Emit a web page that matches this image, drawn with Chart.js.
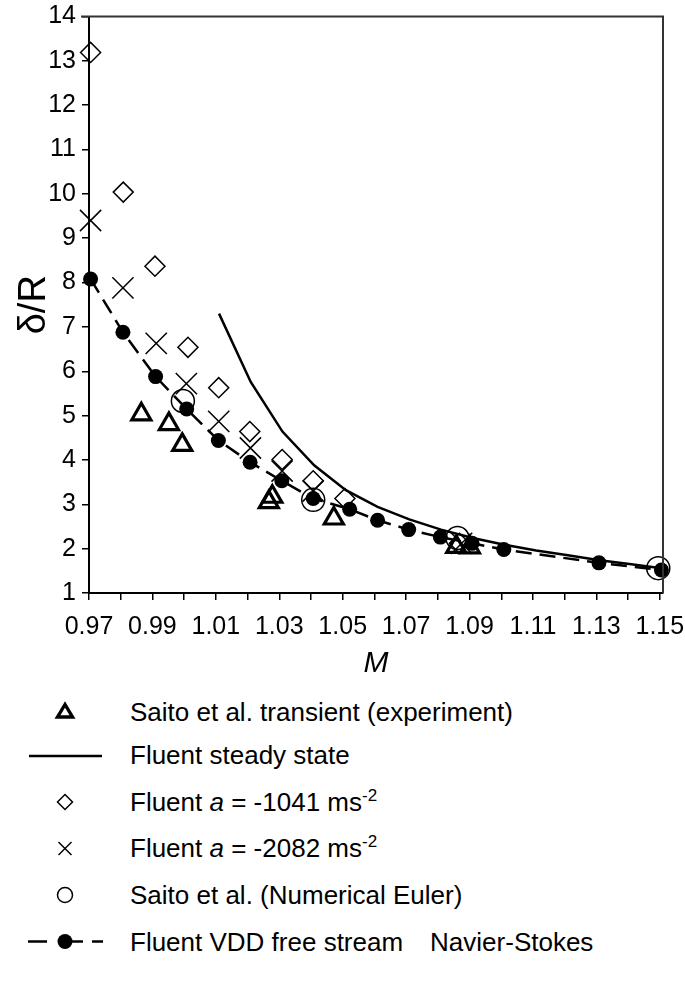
<!DOCTYPE html>
<html>
<head>
<meta charset="utf-8">
<script src="https://cdn.jsdelivr.net/npm/chart.js@4.4.1/dist/chart.umd.min.js"></script>
<style>
  html, body { margin: 0; padding: 0; background: #fff; }
  #wrap { position: relative; width: 685px; height: 986px; overflow: hidden; }
  #c { position: absolute; left: 0; top: 0; }
  .row { position: absolute; left: 130px; font-family: "Liberation Sans", Arial, sans-serif; font-size: 26px; line-height: 30px; color: #000; white-space: nowrap; }
  .row sup { font-size: 17px; vertical-align: 0; position: relative; top: -10px; }
  #lsvg { position: absolute; left: 0; top: 680px; }
</style>
</head>
<body>
<div id="wrap">
  <canvas id="c" width="685" height="690"></canvas>
  <svg id="lsvg" width="130" height="300" xmlns="http://www.w3.org/2000/svg">
    <polygon points="65,24.5 57.5,37 72.5,37" fill="none" stroke="#000" stroke-width="3.4" stroke-linejoin="miter"/>
    <line x1="29" y1="76" x2="102" y2="76" stroke="#000" stroke-width="2.5"/>
    <polygon points="65,114.5 72.5,122 65,129.5 57.5,122" fill="none" stroke="#000" stroke-width="1.5"/>
    <line x1="58.5" y1="162" x2="71.5" y2="175" stroke="#000" stroke-width="1.5"/>
    <line x1="71.5" y1="162" x2="58.5" y2="175" stroke="#000" stroke-width="1.5"/>
    <circle cx="65" cy="215" r="7.5" fill="none" stroke="#000" stroke-width="1.5"/>
    <line x1="28" y1="261.5" x2="47" y2="261.5" stroke="#000" stroke-width="2.5"/>
    <line x1="72" y1="261.5" x2="83" y2="261.5" stroke="#000" stroke-width="2.5"/>
    <line x1="92" y1="261.5" x2="103" y2="261.5" stroke="#000" stroke-width="2.5"/>
    <circle cx="65" cy="261.5" r="7.5" fill="#000"/>
  </svg>
  <div class="row" style="top:697px">Saito et al. transient (experiment)</div>
  <div class="row" style="top:740px">Fluent steady state</div>
  <div class="row" style="top:787px">Fluent <i>a</i> = -1041 ms<sup>-2</sup></div>
  <div class="row" style="top:833px">Fluent <i>a</i> = -2082 ms<sup>-2</sup></div>
  <div class="row" style="top:880px">Saito et al. (Numerical Euler)</div>
  <div class="row" style="top:927px">Fluent VDD free stream<span style="margin-left:27px">Navier-Stokes</span></div>
</div>
<script>
// ---- data ----
const saitoExpM = [0.9865, 0.9952, 0.9994, 1.0267, 1.0278, 1.0472, 1.0858, 1.0901];
const saitoExpR = [5.03, 4.81, 4.34, 3.05, 3.17, 2.68, 2.04, 2.03];

const steadyM = [1.0110, 1.0210, 1.0310, 1.0410, 1.0510, 1.0610, 1.0710, 1.0810, 1.0910, 1.1010, 1.1110, 1.1210, 1.1310, 1.1410, 1.1505];
const steadyR = [7.30, 5.76, 4.64, 3.88, 3.32, 2.94, 2.66, 2.43, 2.24, 2.09, 1.96, 1.85, 1.74, 1.65, 1.56];

const a1041M = [0.9705, 0.9808, 0.9908, 1.0012, 1.0109, 1.0207, 1.0309, 1.0407, 1.0507, 1.0868];
const a1041R = [13.19, 10.04, 8.37, 6.54, 5.63, 4.64, 4.01, 3.53, 3.13, 2.12];

const a2082M = [0.9705, 0.9807, 0.9912, 1.0007, 1.0109, 1.0209, 1.0309, 1.0407, 1.0875];
const a2082R = [9.40, 7.88, 6.63, 5.72, 4.87, 4.27, 3.75, 3.30, 2.12];

const eulerM = [0.9996, 1.0407, 1.0862, 1.1495];
const eulerR = [5.33, 3.10, 2.24, 1.56];

const vddM = [0.9705, 0.9807, 0.9910, 1.0008, 1.0108, 1.0208, 1.0308, 1.0407, 1.0522, 1.0610, 1.0708, 1.0808, 1.0908, 1.1008, 1.1308, 1.1505];
const vddR = [8.08, 6.88, 5.88, 5.15, 4.44, 3.95, 3.53, 3.13, 2.89, 2.64, 2.43, 2.26, 2.12, 1.98, 1.68, 1.52];

const xMin = 0.97, xMax = 1.151, xStep = 0.01;
const yMin = 1, yMax = 14, yStep = 1;

function pts(xs, ys) { return xs.map((x, i) => ({ x: x, y: ys[i] })); }

const FONT = "'Liberation Sans', Arial, sans-serif";
const none = 'rgba(0,0,0,0)';

const boxPlugin = {
  id: 'box',
  afterDraw(chart) {
    const { ctx, chartArea: { left, top, right, bottom } } = chart;
    ctx.save();
    ctx.strokeStyle = '#333';
    ctx.lineWidth = 2;
    ctx.beginPath();
    ctx.moveTo(left - 8, top);
    ctx.lineTo(right, top);
    ctx.lineTo(right, bottom);
    ctx.stroke();
    ctx.restore();
  }
};

new Chart(document.getElementById('c'), {
  type: 'scatter',
  data: {
    datasets: [
      { label: 'Saito et al. transient (experiment)', data: pts(saitoExpM, saitoExpR), order: 6,
        pointStyle: 'triangle', pointRadius: 11, pointBorderWidth: 3.2, borderColor: '#000', backgroundColor: none, showLine: false },
      { label: 'Fluent steady state', data: pts(steadyM, steadyR), order: 5,
        showLine: true, pointRadius: 0, borderColor: '#000', borderWidth: 2.5, backgroundColor: none, tension: 0 },
      { label: 'Fluent a = -1041', data: pts(a1041M, a1041R), order: 4,
        pointStyle: 'rectRot', pointRadius: 10, pointBorderWidth: 1.5, borderColor: '#000', backgroundColor: none, showLine: false },
      { label: 'Fluent a = -2082', data: pts(a2082M, a2082R), order: 3,
        pointStyle: 'crossRot', pointRadius: 15, pointBorderWidth: 1.5, borderColor: '#000', backgroundColor: none, showLine: false },
      { label: 'Saito et al. (Numerical Euler)', data: pts(eulerM, eulerR), order: 2,
        pointStyle: 'circle', pointRadius: 11.5, pointBorderWidth: 1.5, borderColor: '#000', backgroundColor: none, showLine: false },
      { label: 'Fluent VDD free stream Navier-Stokes', data: pts(vddM, vddR), order: 1,
        showLine: true, borderDash: [16, 8], borderWidth: 2.5, borderColor: '#000',
        pointStyle: 'circle', pointRadius: 7.5, pointBorderWidth: 0, pointBackgroundColor: '#000', backgroundColor: '#000', tension: 0 }
    ].map(d => Object.assign({ clip: false }, d))
  },
  options: {
    responsive: false,
    animation: false,
    devicePixelRatio: 1,
    layout: { padding: { left: 0, right: 22, top: 11, bottom: 0 } },
    plugins: { legend: { display: false }, tooltip: { enabled: false } },
    scales: {
      x: {
        type: 'linear', min: xMin, max: xMax,
        border: { display: true, color: '#000', width: 2 },
        grid: { drawOnChartArea: false, drawTicks: true, tickLength: 7, color: '#000', lineWidth: 1.5 },
        ticks: {
          stepSize: xStep, includeBounds: false, autoSkip: false, maxRotation: 0, padding: 12,
          color: '#000', font: { family: FONT, size: 25 },
          callback: (v) => (Math.round(v * 100) % 2 === 1 ? v.toFixed(2) : '')
        },
        title: { display: true, text: 'M', color: '#000', font: { family: FONT, size: 30, style: 'italic' }, padding: { top: 0, bottom: 8 } },
        afterFit: (s) => { s.height = 97; s.paddingLeft = 0; s.paddingRight = 0; s.paddingTop = 0; s.paddingBottom = 0; }
      },
      y: {
        type: 'linear', min: yMin, max: yMax,
        border: { display: true, color: '#000', width: 2 },
        grid: { drawOnChartArea: false, drawTicks: true, tickLength: 7, color: '#000', lineWidth: 1.5 },
        ticks: { stepSize: yStep, autoSkip: false, padding: 6, color: '#000', font: { family: FONT, size: 25, lineHeight: 0.6 } },
        title: { display: true, text: 'δ/R', color: '#000', font: { family: FONT, size: 38 }, padding: { top: 12, bottom: 0 } },
        afterFit: (s) => { s.width = 89; s.paddingTop = 0; s.paddingBottom = 0; s.paddingLeft = 0; s.paddingRight = 0; }
      }
    }
  },
  plugins: [boxPlugin]
});
</script>
</body>
</html>
